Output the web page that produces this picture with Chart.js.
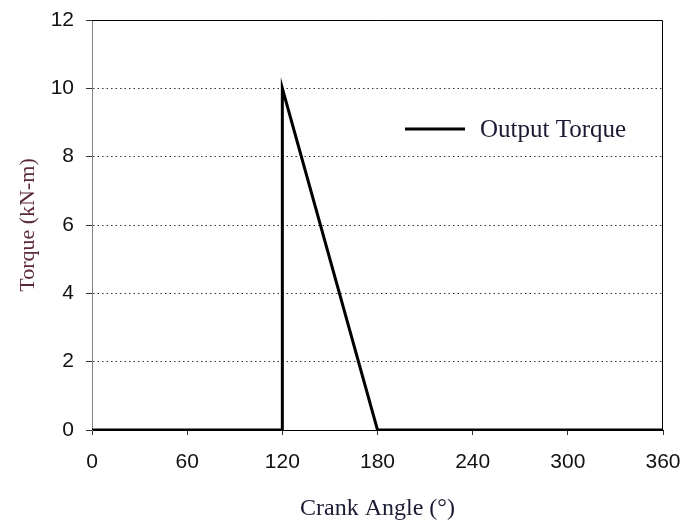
<!DOCTYPE html>
<html>
<head>
<meta charset="utf-8">
<script src="https://cdn.jsdelivr.net/npm/chart.js@4/dist/chart.umd.min.js"></script>
<style>
  html, body { margin: 0; padding: 0; background: #fff; }
  #wrap { width: 684px; height: 520px; }
</style>
</head>
<body>
<div id="wrap"><canvas id="torqueChart" width="684" height="520"></canvas></div>
<script>
  // values
  const crankAngles = [0, 120, 120, 180, 360];
  const outputTorque = [0, 0, 10, 0, 0];
  const seriesLabel = "Output Torque";
  const xTitle = "Crank Angle (°)";
  const yTitle = "Torque (kN-m)";

  const tickFont = { family: "'Liberation Sans', Arial, sans-serif", size: 21 };
  const serif = "'Liberation Serif', 'Times New Roman', serif";

  // frame on top / right + legend inside plot
  const framePlugin = {
    id: 'frame',
    afterDatasetsDraw(chart) {
      const { ctx, chartArea: a } = chart;
      ctx.save();
      ctx.strokeStyle = '#000';
      ctx.lineWidth = 1;
      ctx.beginPath();
      ctx.moveTo(a.left, a.top + 0.5);
      ctx.lineTo(a.right - 0.5, a.top + 0.5);
      ctx.lineTo(a.right - 0.5, a.bottom);
      ctx.stroke();

      // legend
      const ds = chart.data.datasets[0];
      const lx = a.left + 313, ly = a.top + 109;
      ctx.strokeStyle = ds.borderColor;
      ctx.lineWidth = 3;
      ctx.beginPath();
      ctx.moveTo(lx, ly);
      ctx.lineTo(lx + 60, ly);
      ctx.stroke();
      ctx.fillStyle = '#1a1a33';
      ctx.font = "25px " + serif;
      ctx.textBaseline = 'middle';
      ctx.fillText(ds.label, lx + 75, ly + 1);
      ctx.restore();
    }
  };

  const ctx = document.getElementById('torqueChart').getContext('2d');
  new Chart(ctx, {
    type: 'line',
    data: {
      datasets: [{
        label: seriesLabel,
        data: crankAngles.map((a, i) => ({ x: a, y: outputTorque[i] })),
        borderColor: '#000',
        borderWidth: 3,
        pointRadius: 0,
        tension: 0,
        fill: false,
        borderJoinStyle: 'miter'
      }]
    },
    options: {
      responsive: false,
      animation: false,
      layout: { padding: { left: 11, top: 20, right: 21, bottom: 0 } },
      plugins: {
        legend: { display: false },
        tooltip: { enabled: false },
        title: false
      },
      scales: {
        x: {
          type: 'linear',
          min: 0, max: 360,
          ticks: { stepSize: 60, color: '#111', font: tickFont, padding: 15, maxRotation: 0 },
          grid: { drawOnChartArea: false, tickLength: 5, tickColor: '#333' },
          border: { color: '#000', width: 1 },
          title: { display: true, text: xTitle, color: '#1a1a33', font: { family: serif, size: 24 }, padding: { top: 4, bottom: -3 } },
          afterFit(scale) {
            scale.height = 90;
            scale.paddingLeft = 0; scale.paddingRight = 0;
          }
        },
        y: {
          min: 0, max: 12,
          ticks: { stepSize: 2, color: '#111', font: tickFont, padding: 12 },
          grid: {
            color: c => (c.tick && (c.tick.value === 0 || c.tick.value === 12)) ? 'rgba(0,0,0,0)' : '#333',
            tickColor: '#333',
            tickLength: 6
          },
          border: { color: '#808080', width: 1, dash: [1.5, 3] },
          title: { display: true, text: yTitle, color: '#5a2a3a', font: { family: serif, size: 22 } },
          afterFit(scale) {
            scale.width = 81;
            scale.paddingTop = 0; scale.paddingBottom = 0;
          }
        }
      }
    },
    plugins: [framePlugin]
  });
</script>
</body>
</html>
